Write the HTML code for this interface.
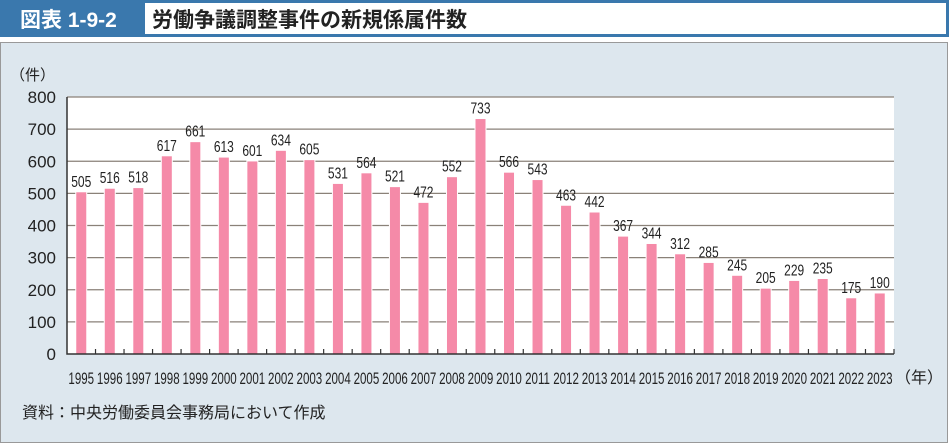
<!DOCTYPE html>
<html><head><meta charset="utf-8"><style>
body{margin:0;width:949px;height:443px;overflow:hidden;background:#fff;font-family:"Liberation Sans","Noto Sans CJK JP",sans-serif;}
</style></head><body>
<svg width="949" height="443" xmlns="http://www.w3.org/2000/svg">
<rect x="0" y="0" width="949" height="37" fill="#3a78ad"/>
<rect x="145" y="3" width="801" height="31" fill="#fff"/>
<text x="20" y="27" font-size="21" font-weight="bold" fill="#fff" font-family="Liberation Sans,Noto Sans CJK JP,sans-serif">図表 1-9-2</text>
<text x="152" y="27" font-size="21" font-weight="bold" fill="#222" font-family="Liberation Sans,Noto Sans CJK JP,sans-serif">労働争議調整事件の新規係属件数</text>
<rect x="0.5" y="42.5" width="947" height="400" fill="#dde7ee" stroke="#999"/>
<rect x="67" y="97" width="827" height="257" fill="#fff"/>
<g id="grid"></g><g id="bars"></g><g id="axes"></g>
<text x="55" y="80" font-size="15" text-anchor="end" fill="#222" font-family="Liberation Sans,Noto Sans CJK JP,sans-serif">（件）</text>
<text x="895" y="383" font-size="16" fill="#222" font-family="Liberation Sans,Noto Sans CJK JP,sans-serif">（年）</text>
<text x="22" y="418" font-size="16" fill="#222" font-family="Liberation Sans,Noto Sans CJK JP,sans-serif">資料：中央労働委員会事務局において作成</text>
</svg>
<script>
const years=[1995,1996,1997,1998,1999,2000,2001,2002,2003,2004,2005,2006,2007,2008,2009,2010,2011,2012,2013,2014,2015,2016,2017,2018,2019,2020,2021,2022,2023];
const cases=[505,516,518,617,661,613,601,634,605,531,564,521,472,552,733,566,543,463,442,367,344,312,285,245,205,229,235,175,190];
const yTicks=[0,100,200,300,400,500,600,700,800];
const NS="http://www.w3.org/2000/svg";
const x0=67,x1=894,y0=354,y1=97,yMax=800;
const step=(x1-x0)/years.length;
const yS=v=>y0-(v/yMax)*(y0-y1);
const xC=i=>x0+step*(i+0.5);
function mk(t,a,p){const e=document.createElementNS(NS,t);for(const k in a)e.setAttribute(k,a[k]);p.appendChild(e);return e;}
const grid=document.getElementById('grid'),bars=document.getElementById('bars'),axes=document.getElementById('axes');
yTicks.forEach(v=>{
 if(v>0){const l=mk('line',{x1:x0,x2:x1,y1:yS(v),y2:yS(v),stroke:'#8a8178','stroke-width':1.2},grid);
 
 }
 const t=mk('text',{x:56,y:yS(v)+6,'font-size':17,'text-anchor':'end',fill:'#222'},axes);t.textContent=v;
 
 
});
years.forEach((yr,i)=>{
 const v=cases[i],cx=xC(i),w=11;
 const r=mk('rect',{x:cx-w/2,y:yS(v),width:w,height:y0-yS(v),fill:'#f58aa8',stroke:'#fff','stroke-width':1},bars);
 
 
 const t=mk('text',{x:cx,y:yS(v)-5,'font-size':16,'text-anchor':'middle',fill:'#222',transform:`translate(${cx},0) scale(0.75,1) translate(${-cx},0)`},bars);t.textContent=v;
 
 
 const l=mk('text',{x:cx,y:384,'font-size':17,'text-anchor':'middle',fill:'#222',transform:`translate(${cx},0) scale(0.68,1) translate(${-cx},0)`},axes);l.textContent=yr;
 
 
 const tk=mk('line',{x1:x0+step*(i+1),x2:x0+step*(i+1),y1:y0,y2:y0-5,stroke:'#333','stroke-width':1.2},axes);
 
 
});
const ax=mk('path',{d:`M${x0},${y1} V${y0} H${x1}`,fill:'none',stroke:'#333','stroke-width':1.5},axes);


</script>
</body></html>
